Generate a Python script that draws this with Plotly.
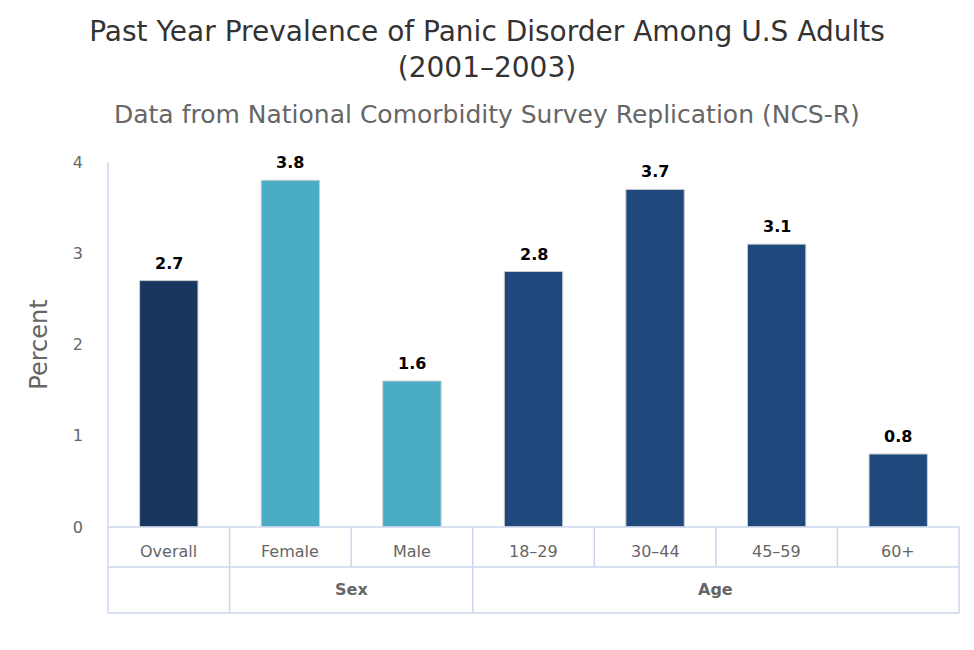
import plotly.graph_objects as go

categories = ["Overall", "Female", "Male", "18–29", "30–44", "45–59", "60+"]
values = [2.7, 3.8, 1.6, 2.8, 3.7, 3.1, 0.8]
groups = ["", "Sex", "Sex", "Age", "Age", "Age", "Age"]
colors = ["#17375E", "#4BACC6", "#4BACC6", "#1F497D", "#1F497D", "#1F497D", "#1F497D"]
y_ticks = [0, 1, 2, 3, 4]

FONT = "DejaVu Sans"
GRID = "#ccd6eb"

fig = go.Figure()
fig.add_trace(go.Bar(
    x=categories, y=values,
    marker=dict(color=colors, line=dict(color="#cccccc", width=1)),
    width=0.48, hoverinfo="x+y",
))

ann = []
for c, v in zip(categories, values):
    ann.append(dict(x=c, y=v, xref="x", yref="y", text=f"<b>{v:.1f}</b>",
                    showarrow=False, yanchor="bottom", yshift=6,
                    font=dict(family=FONT, size=16, color="#000000")))
    ann.append(dict(x=c, y=-0.0658, xref="x", yref="paper", text=c,
                    showarrow=False, yanchor="middle",
                    font=dict(family=FONT, size=16, color="#666666")))

# group labels
n = len(categories)
spans = []
start = 0
for i in range(1, n + 1):
    if i == n or groups[i] != groups[start]:
        spans.append((groups[start], start, i))
        start = i
for name, s, e in spans:
    if name:
        ann.append(dict(x=(s + e - 1) / 2, y=-0.1726, xref="x", yref="paper",
                        text=f"<b>{name}</b>", showarrow=False, yanchor="middle",
                        font=dict(family=FONT, size=16, color="#666666")))

ann.append(dict(x=0.445, y=1.1288, xref="paper", yref="paper",
                text="Data from National Comorbidity Survey Replication (NCS-R)",
                showarrow=False, yanchor="middle", xanchor="center",
                font=dict(family=FONT, size=25, color="#666666")))

row1 = -40 / 365
row2 = -86 / 365
shapes = []
line = dict(color=GRID, width=1.5)
# left axis line
shapes.append(dict(type="line", xref="paper", yref="paper", x0=0, x1=0, y0=1, y1=row2, line=line))
# horizontal lines
for yy in [0, row1, row2]:
    shapes.append(dict(type="line", xref="paper", yref="paper", x0=0, x1=1, y0=yy, y1=yy, line=line))
# vertical lines in first row
for k in range(1, n + 1):
    shapes.append(dict(type="line", xref="paper", yref="paper", x0=k / n, x1=k / n, y0=0, y1=row1, line=line))
# vertical lines in group row
for name, s, e in spans:
    shapes.append(dict(type="line", xref="paper", yref="paper", x0=e / n, x1=e / n, y0=row1, y1=row2, line=line))

fig.update_layout(
    width=974, height=650,
    margin=dict(l=100, r=23, t=154, b=131),
    paper_bgcolor="white", plot_bgcolor="white",
    showlegend=False,
    title=dict(text="Past Year Prevalence of Panic Disorder Among U.S Adults<br>(2001–2003)",
               x=(487 - 8) / 974, xanchor="center", y=1 - 33 / 650, yanchor="middle", yref="container",
               font=dict(family=FONT, size=28, color="#333333")),
    xaxis=dict(type="category", range=[-0.5, n - 0.5], showticklabels=False,
               showline=False, showgrid=False, zeroline=False, ticks=""),
    yaxis=dict(range=[0, 4], tickvals=y_ticks, showgrid=False, zeroline=False,
               showline=False, ticks="", ticklabelstandoff=24,
               tickfont=dict(family=FONT, size=16, color="#666666"),
               title=dict(text="Percent", standoff=18,
                          font=dict(family=FONT, size=24, color="#666666"))),
    annotations=ann, shapes=shapes,
)

fig.write_html("out.html")
